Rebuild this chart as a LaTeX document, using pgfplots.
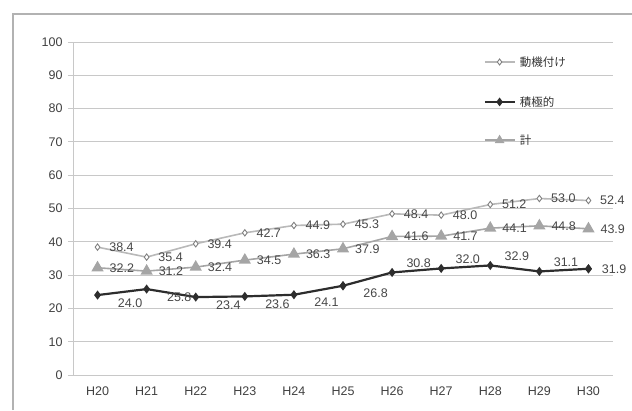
\documentclass[border=0pt]{standalone}
\usepackage{pgfplots}
\pgfplotsset{compat=1.18}
\usepackage{fontspec}
\setmainfont{Liberation Sans}
\newfontfamily\cjk{Noto Sans CJK JP}
\definecolor{gridc}{RGB}{200,200,200}
\definecolor{lightline}{RGB}{185,185,185}
\definecolor{darkline}{RGB}{45,45,45}
\definecolor{midline}{RGB}{165,165,165}
\begin{document}
\begin{tikzpicture}[x=1pt,y=1pt]
\useasboundingbox (0,0) rectangle (632,410);
\draw[gray!60, line width=1.2pt] (13,0) -- (13,396) -- (632,396);
\begin{axis}[
  at={(73pt,35pt)}, anchor=south west,
  scale only axis, width=540pt, height=333pt,
  xmin=-0.5, xmax=10.5, ymin=0, ymax=100,
  ytick={0,10,...,100},
  xtick={0,...,10},
  xticklabels={H20,H21,H22,H23,H24,H25,H26,H27,H28,H29,H30},
  extra x ticks={-0.5,0.5,...,10.5}, extra x tick labels={},
  extra x tick style={major tick length=5pt, tick style={gridc, line width=0.8pt}, xtick pos=bottom, tick align=outside},
  major x tick style={draw=none},
  ymajorgrids, grid style={gridc, line width=0.9pt},
  axis x line*=bottom, axis y line*=left,
  axis line style={gridc, line width=0.9pt},
  ytick style={gridc, line width=0.8pt}, major tick length=5pt,
  tick align=outside,
  /pgf/number format/assume math mode=true,
  tick label style={font=\fontsize{12.5}{14}\selectfont, text=black!75},
  xticklabel style={yshift=-3pt},
  yticklabel style={xshift=-2pt},
  nodes near coords, point meta=explicit symbolic,
  every node near coord/.style={font=\fontsize{12.5}{14}\selectfont, text=black!72, anchor=west, xshift=8pt},
  clip=false,
]
% 動機付け
\addplot[lightline, line width=1.6pt, mark=diamond*, mark options={fill=white, draw=gray, line width=0.9pt}, mark size=3.2pt]
  coordinates {(0,38.4)[38.4] (1,35.4)[35.4] (2,39.4)[39.4] (3,42.7)[42.7] (4,44.9)[44.9] (5,45.3)[45.3] (6,48.4)[48.4] (7,48.0)[48.0] (8,51.2)[51.2] (9,53.0)[53.0] (10,52.4)[52.4]};
% 計
\addplot[midline, line width=1.6pt, mark=triangle*, mark options={fill=midline, draw=midline}, mark size=5.5pt]
  coordinates {(0,32.2)[32.2] (1,31.2)[31.2] (2,32.4)[32.4] (3,34.5)[34.5] (4,36.3)[36.3] (5,37.9)[37.9] (6,41.6)[41.6] (7,41.7)[41.7] (8,44.1)[44.1] (9,44.8)[44.8] (10,43.9)[43.9]};
% 積極的
\addplot[darkline, line width=2.2pt, mark=diamond*, mark options={fill=darkline}, mark size=2.8pt,
  nodes near coords style={anchor=north west, xshift=8pt, yshift=1pt}]
  coordinates {(0,24.0)[24.0] (1,25.8)[25.8] (2,23.4)[23.4] (3,23.6)[23.6] (4,24.1)[24.1] (5,26.8)[26.8]};
\addplot[darkline, line width=2.2pt, mark=diamond*, mark options={fill=darkline}, mark size=2.8pt,
  nodes near coords style={anchor=south west, xshift=2pt, yshift=0pt}]
  coordinates {(5,26.8)[] (6,30.8)[30.8] (7,32.0)[32.0] (8,32.9)[32.9] (9,31.1)[31.1] (10,31.9)[]};
\addplot[darkline, line width=2.2pt, mark=diamond*, mark options={fill=darkline}, mark size=2.8pt,
  nodes near coords style={anchor=west, xshift=1pt}]
  coordinates {(10,31.9)[31.9]};
% legend
\addplot[lightline, line width=1.6pt, mark=diamond*, mark indices={2}, mark options={fill=white, draw=gray, line width=0.9pt}, mark size=3pt, forget plot]
  coordinates {(7.89,94)[] (8.19,94)[] (8.5,94)[]};
\node[anchor=west, font=\cjk\fontsize{11.5}{13}\selectfont, text=black!80] at (axis cs:8.53,94) {動機付け};
\addplot[darkline, line width=2.2pt, mark=diamond*, mark indices={2}, mark options={fill=darkline}, mark size=2.6pt, forget plot]
  coordinates {(7.89,82)[] (8.19,82)[] (8.5,82)[]};
\node[anchor=west, font=\cjk\fontsize{11.5}{13}\selectfont, text=black!80] at (axis cs:8.53,82) {積極的};
\addplot[midline, line width=1.6pt, mark=triangle*, mark indices={2}, mark options={fill=midline, draw=midline}, mark size=4pt, forget plot]
  coordinates {(7.89,70.5)[] (8.19,70.5)[] (8.5,70.5)[]};
\node[anchor=west, font=\cjk\fontsize{11.5}{13}\selectfont, text=black!80] at (axis cs:8.53,70.5) {計};
\end{axis}
\end{tikzpicture}
\end{document}
